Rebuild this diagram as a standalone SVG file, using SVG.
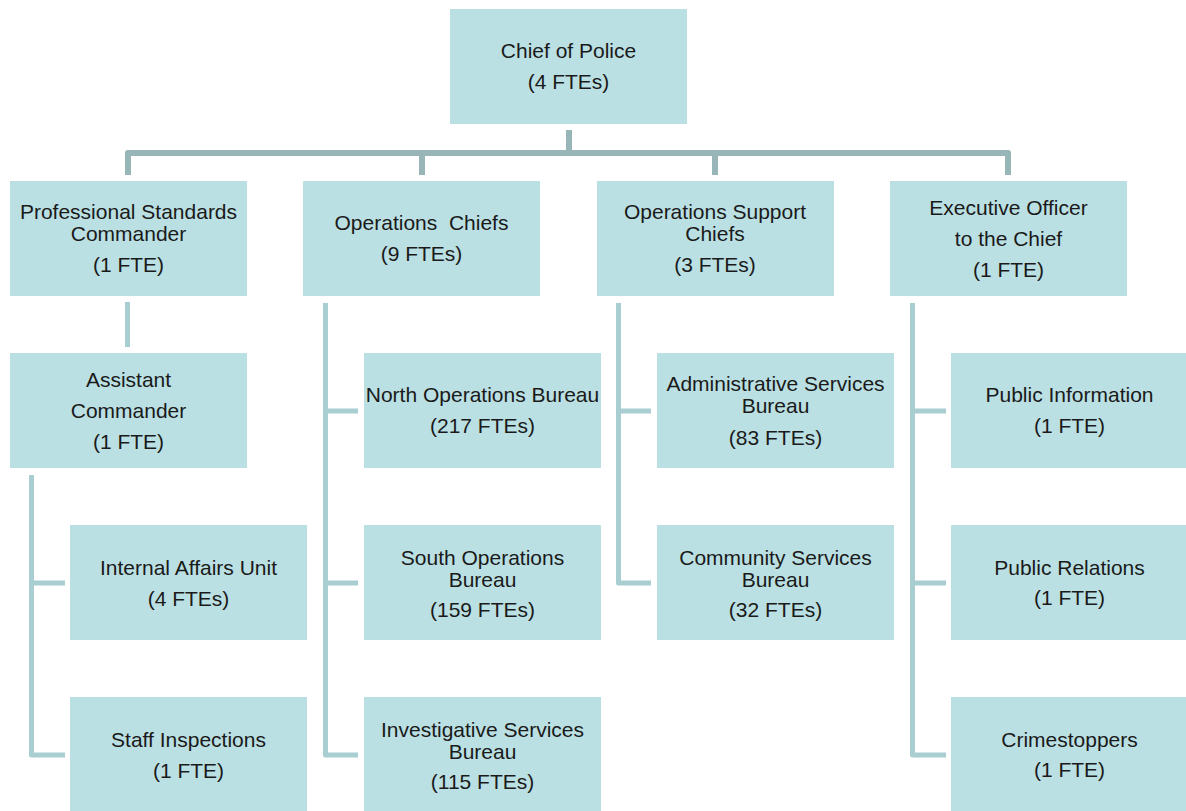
<svg xmlns="http://www.w3.org/2000/svg" width="1186" height="811" viewBox="0 0 1186 811">
<style>
.box{fill:#bbe0e3}
text{font-family:"Liberation Sans",Arial,sans-serif;font-size:21px;fill:#1a1a1a;text-anchor:middle}
.bar{fill:none;stroke:#98b5b8;stroke-width:6;stroke-linejoin:round}
.ln{fill:none;stroke:#a9ced1;stroke-width:5;stroke-linejoin:round}
</style>
<rect width="1186" height="811" fill="#ffffff"/>
<g id="connectors">
<path class="bar" d="M569,130 V153"/>
<path class="bar" d="M128,175 V153 H1008 V175"/>
<path class="bar" d="M422,153 V175"/>
<path class="bar" d="M715,153 V175"/>
<path class="ln" d="M127.5,302 V347"/>
<path class="ln" d="M65,755 H31.5 V475 M31.5,583 H65"/>
<path class="ln" d="M358,755 H325.5 V303 M325.5,411 H358 M325.5,583 H358"/>
<path class="ln" d="M651,583 H618.5 V303 M618.5,411 H651"/>
<path class="ln" d="M946,755 H912.5 V303 M912.5,411 H946 M912.5,583 H946"/>
</g>
<g id="chief"><rect class="box" x="450" y="9" width="237" height="115"/><text x="568.5" y="58">Chief of Police</text><text x="568.5" y="89">(4 FTEs)</text></g>
<g id="psc"><rect class="box" x="10" y="181" width="237" height="115"/><text x="128.5" y="219">Professional Standards</text><text x="128.5" y="241">Commander</text><text x="128.5" y="272">(1 FTE)</text></g>
<g id="opschiefs"><rect class="box" x="303" y="181" width="237" height="115"/><text x="421.5" y="230" xml:space="preserve">Operations  Chiefs</text><text x="421.5" y="261">(9 FTEs)</text></g>
<g id="opssupport"><rect class="box" x="597" y="181" width="237" height="115"/><text x="715" y="219">Operations Support</text><text x="715" y="241">Chiefs</text><text x="715" y="272">(3 FTEs)</text></g>
<g id="exec"><rect class="box" x="890" y="181" width="237" height="115"/><text x="1008.5" y="215">Executive Officer</text><text x="1008.5" y="246">to the Chief</text><text x="1008.5" y="277">(1 FTE)</text></g>
<g id="assistant"><rect class="box" x="10" y="353" width="237" height="115"/><text x="128.5" y="387">Assistant</text><text x="128.5" y="418">Commander</text><text x="128.5" y="448.5">(1 FTE)</text></g>
<g id="internal"><rect class="box" x="70" y="525" width="237" height="115"/><text x="188.5" y="575">Internal Affairs Unit</text><text x="188.5" y="605.5">(4 FTEs)</text></g>
<g id="staff"><rect class="box" x="70" y="697" width="237" height="115"/><text x="188.5" y="747">Staff Inspections</text><text x="188.5" y="777.5">(1 FTE)</text></g>
<g id="north"><rect class="box" x="364" y="353" width="237" height="115"/><text x="482.5" y="402">North Operations Bureau</text><text x="482.5" y="433">(217 FTEs)</text></g>
<g id="south"><rect class="box" x="364" y="525" width="237" height="115"/><text x="482.5" y="565">South Operations</text><text x="482.5" y="587">Bureau</text><text x="482.5" y="617">(159 FTEs)</text></g>
<g id="investigative"><rect class="box" x="364" y="697" width="237" height="115"/><text x="482.5" y="737">Investigative Services</text><text x="482.5" y="758.5">Bureau</text><text x="482.5" y="788.5">(115 FTEs)</text></g>
<g id="admin"><rect class="box" x="657" y="353" width="237" height="115"/><text x="775.5" y="391">Administrative Services</text><text x="775.5" y="413">Bureau</text><text x="775.5" y="445">(83 FTEs)</text></g>
<g id="community"><rect class="box" x="657" y="525" width="237" height="115"/><text x="775.5" y="565">Community Services</text><text x="775.5" y="587">Bureau</text><text x="775.5" y="617">(32 FTEs)</text></g>
<g id="publicinfo"><rect class="box" x="951" y="353" width="237" height="115"/><text x="1069.5" y="402">Public Information</text><text x="1069.5" y="433">(1 FTE)</text></g>
<g id="publicrel"><rect class="box" x="951" y="525" width="237" height="115"/><text x="1069.5" y="575">Public Relations</text><text x="1069.5" y="605">(1 FTE)</text></g>
<g id="crimestoppers"><rect class="box" x="951" y="697" width="237" height="115"/><text x="1069.5" y="747">Crimestoppers</text><text x="1069.5" y="777">(1 FTE)</text></g>
</svg>
